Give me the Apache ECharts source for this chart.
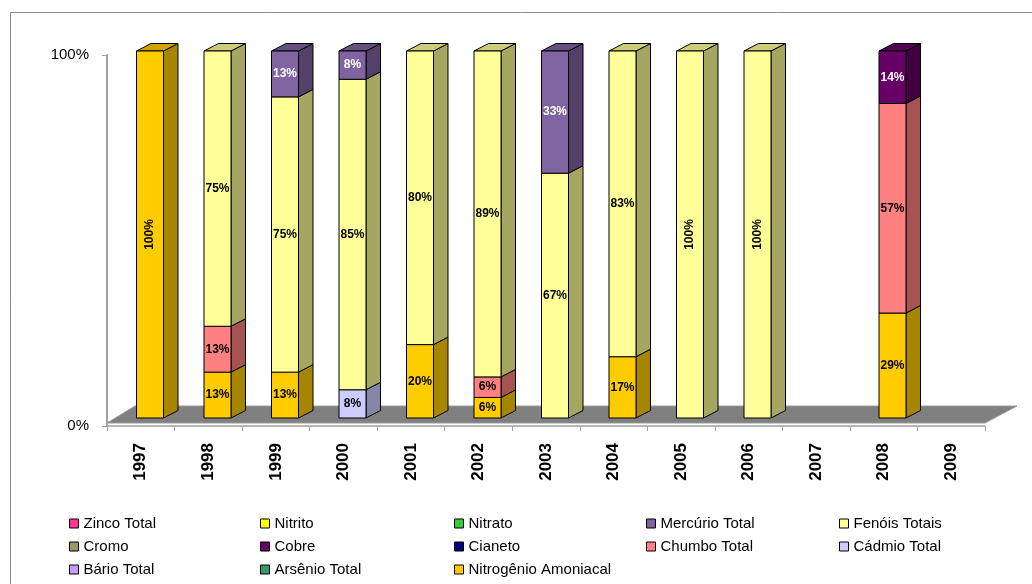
<!DOCTYPE html>
<html>
<head>
<meta charset="utf-8">
<script src="https://cdn.jsdelivr.net/npm/echarts@6/dist/echarts.min.js"></script>
<style>
html,body{margin:0;padding:0;background:#fff;}
#chart{width:1032px;height:584px;}
</style>
</head>
<body>
<div id="chart"></div>
<script>
// ---- data (percent of each year's total) ----
const years = ['1997','1998','1999','2000','2001','2002','2003','2004','2005','2006','2007','2008','2009'];
const nitrogenioAmoniacal = [100, 12.5, 12.5, 0, 20, 5.6, 0, 16.7, 0, 0, 0, 28.6, 0];
const arsenioTotal        = [0, 0, 0, 0, 0, 0, 0, 0, 0, 0, 0, 0, 0];
const barioTotal          = [0, 0, 0, 0, 0, 0, 0, 0, 0, 0, 0, 0, 0];
const cadmioTotal         = [0, 0, 0, 7.7, 0, 0, 0, 0, 0, 0, 0, 0, 0];
const chumboTotal         = [0, 12.5, 0, 0, 0, 5.6, 0, 0, 0, 0, 0, 57.1, 0];
const cianeto             = [0, 0, 0, 0, 0, 0, 0, 0, 0, 0, 0, 0, 0];
const cobre               = [0, 0, 0, 0, 0, 0, 0, 0, 0, 0, 0, 14.3, 0];
const cromo               = [0, 0, 0, 0, 0, 0, 0, 0, 0, 0, 0, 0, 0];
const fenoisTotais        = [0, 75, 75, 84.6, 80, 88.8, 66.7, 83.3, 100, 100, 0, 0, 0];
const mercurioTotal       = [0, 0, 12.5, 7.7, 0, 0, 33.3, 0, 0, 0, 0, 0, 0];
const nitrato             = [0, 0, 0, 0, 0, 0, 0, 0, 0, 0, 0, 0, 0];
const nitrito             = [0, 0, 0, 0, 0, 0, 0, 0, 0, 0, 0, 0, 0];
const zincoTotal          = [0, 0, 0, 0, 0, 0, 0, 0, 0, 0, 0, 0, 0];
const yTickLabels = ['0%', '100%'];

// stack order, bottom to top
const stackDefs = [
  {name:'Nitrogênio Amoniacal', data:nitrogenioAmoniacal, color:'#FFCC00', label:'#000'},
  {name:'Arsênio Total',        data:arsenioTotal,        color:'#339966', label:'#000'},
  {name:'Bário Total',          data:barioTotal,          color:'#CC99FF', label:'#000'},
  {name:'Cádmio Total',         data:cadmioTotal,         color:'#CCCCFF', label:'#000'},
  {name:'Chumbo Total',         data:chumboTotal,         color:'#FF8080', label:'#000'},
  {name:'Cianeto',              data:cianeto,             color:'#000080', label:'#fff'},
  {name:'Cobre',                data:cobre,               color:'#660066', label:'#fff'},
  {name:'Cromo',                data:cromo,               color:'#999966', label:'#000'},
  {name:'Fenóis Totais',        data:fenoisTotais,        color:'#FFFF99', label:'#000'},
  {name:'Mercúrio Total',       data:mercurioTotal,       color:'#8064A2', label:'#fff'},
  {name:'Nitrato',              data:nitrato,             color:'#33CC33', label:'#000'},
  {name:'Nitrito',              data:nitrito,             color:'#FFFF00', label:'#000'},
  {name:'Zinco Total',          data:zincoTotal,          color:'#FF3399', label:'#000'}
];

const legendColumns = [
  ['Zinco Total','Cromo','Bário Total'],
  ['Nitrito','Cobre','Arsênio Total'],
  ['Nitrato','Cianeto','Nitrogênio Amoniacal'],
  ['Mercúrio Total','Chumbo Total'],
  ['Fenóis Totais','Cádmio Total']
];
const legendLefts = [64, 255, 449, 641, 834];

function shade(hex, f){
  const n = parseInt(hex.slice(1),16);
  const r = Math.round(((n>>16)&255)*f), g = Math.round(((n>>8)&255)*f), b = Math.round((n&255)*f);
  return 'rgb('+r+','+g+','+b+')';
}

// cumulative bases
const totals = years.map(()=>0);
const series = [];

series.push({
  type:'custom', name:'_floor', xAxisIndex:1, yAxisIndex:1, z:1, silent:true,
  data:[[0,0]],
  renderItem:function(params, api){
    const p0 = api.coord([0,0]);
    const bw = api.size([1,0])[0];
    const left = p0[0]-bw/2, right = left + bw*years.length;
    const fy = p0[1]-3, by = fy-17;
    return {type:'polygon', shape:{points:[[left,fy],[right,fy],[right+32,by],[left+28,by]]},
      style:{fill:'#808080', stroke:'#9a9a9a', lineWidth:1}};
  }
});

const stacks = stackDefs.map(def=>{
  const rows = def.data.map((v,i)=>{ const b = totals[i]; totals[i] += v; return [i, v, b]; });
  return rows;
});

stackDefs.forEach((def, si)=>{
  const rows = stacks[si];
  series.push({
    type:'custom', name:def.name, xAxisIndex:0, yAxisIndex:0, z:3,
    itemStyle:{color:def.color},
    data: rows,
    renderItem:function(params, api){
      const i = api.value(0), v = api.value(1), b = api.value(2);
      if (!v) return null;
      const pb = api.coord([i, b]);
      const pt = api.coord([i, b+v]);
      const bw = api.size([1,0])[0];
      const w = bw*0.4, dx = bw*0.215, dy = 7.5;
      const x0 = pb[0]-w/2, x1 = pb[0]+w/2;
      const yb = pb[1], yt = pt[1];
      const children = [];
      const stroke = {stroke:'#000', lineWidth:1, lineJoin:'round'};
      children.push({type:'polygon', shape:{points:[[x1,yb],[x1+dx,yb-dy],[x1+dx,yt-dy],[x1,yt]]},
        style:Object.assign({fill:shade(def.color,0.65)}, stroke)});
      if (b+v >= totals[i]-0.05) {
        children.push({type:'polygon', shape:{points:[[x0,yt],[x1,yt],[x1+dx,yt-dy],[x0+dx,yt-dy]]},
          style:Object.assign({fill:shade(def.color,0.8)}, stroke)});
      }
      children.push({type:'rect', shape:{x:x0, y:yt, width:w, height:yb-yt},
        style:Object.assign({fill:def.color}, stroke)});
      const rot = v >= 99.9 ? Math.PI/2 : 0;
      children.push({type:'text', x:pb[0], y:(yb+yt)/2, rotation:rot,
        style:{text:Math.round(v)+'%', fill:def.label, font:'bold 12px "Liberation Sans", Arial, sans-serif',
          align:'center', verticalAlign:'middle', textAlign:'center', textVerticalAlign:'middle'}});
      return {type:'group', children:children};
    }
  });
});

const legends = legendColumns.map((col, k)=>({
  data: col, orient:'vertical', left: legendLefts[k], top: 510, selectedMode:false,
  icon:'rect', itemWidth:9, itemHeight:9, itemGap:6,
  itemStyle:{borderColor:'#000', borderWidth:1},
  textStyle:{fontSize:15, lineHeight:17, color:'#000', fontFamily:'"Liberation Sans", Arial, sans-serif'}
}));

const chart = echarts.init(document.getElementById('chart'), null, {renderer:'canvas'});
chart.setOption({
  animation:false,
  backgroundColor:'#fff',
  graphic:[{type:'rect', left:8, top:10, shape:{width:1100, height:700}, style:{fill:'none', stroke:'#8c8c8c', lineWidth:1}, z:0}],
  legend: legends,
  grid:[
    {left:116.25, top:51, width:877.5, height:367, containLabel:false},
    {left:107, top:55, width:878, height:371, containLabel:false}
  ],
  xAxis:[
    {type:'category', gridIndex:0, data:years, show:false},
    {type:'category', gridIndex:1, data:years,
      axisLine:{show:true, lineStyle:{color:'#a0a0a0', width:1.5}},
      axisTick:{show:true, length:5, interval:0, lineStyle:{color:'#a0a0a0'}},
      axisLabel:{rotate:90, interval:0, margin:17, color:'#000', fontWeight:'bold', fontSize:17,
        fontFamily:'"Liberation Sans", Arial, sans-serif'}}
  ],
  yAxis:[
    {type:'value', gridIndex:0, min:0, max:100, show:false},
    {type:'value', gridIndex:1, min:0, max:100, interval:100,
      axisLine:{show:true, lineStyle:{color:'#a0a0a0', width:2}},
      axisTick:{show:true, length:5, lineStyle:{color:'#a0a0a0'}},
      splitLine:{show:false},
      axisLabel:{color:'#000', fontSize:15, margin:18, fontFamily:'"Liberation Sans", Arial, sans-serif',
        formatter:function(v){ return v===0 ? yTickLabels[0] : yTickLabels[1]; }}}
  ],
  series: series
});
</script>
</body>
</html>
